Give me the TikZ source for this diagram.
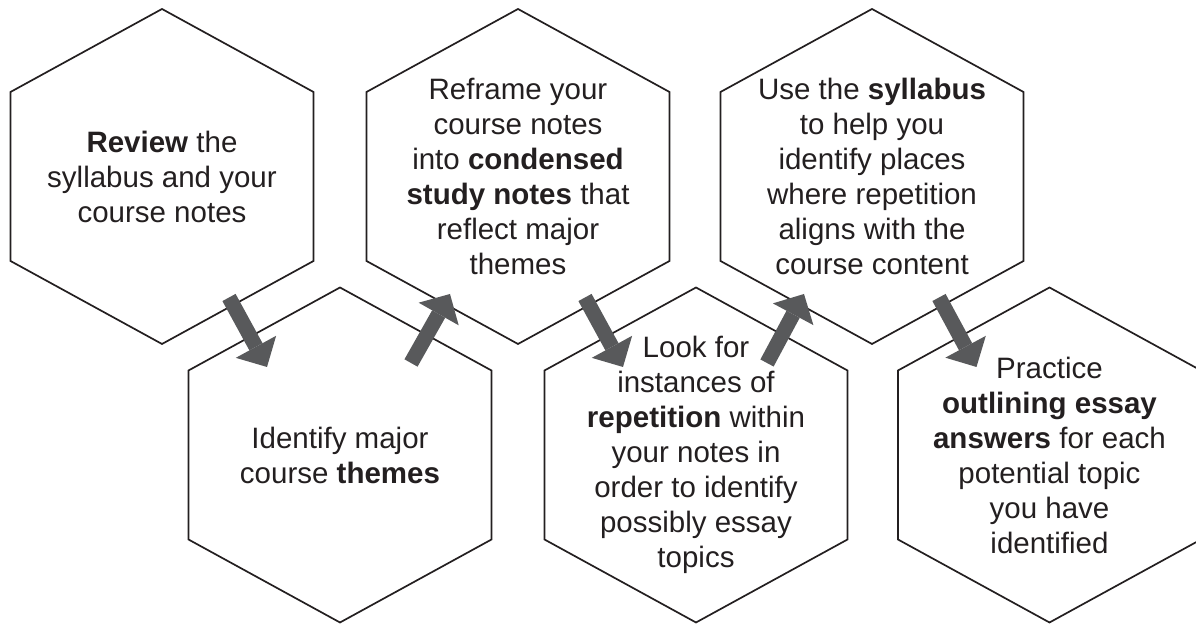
\documentclass[tikz,border=0pt]{standalone}
\usepackage{fontspec}
\setmainfont{Liberation Sans}
\usetikzlibrary{arrows.meta}
\definecolor{outline}{RGB}{35,31,32}
\definecolor{arrowgrey}{RGB}{88,89,91}
\tikzstyle{steptext}=[align=center, text=outline, inner sep=0pt,
  font=\fontsize{14.75pt}{17.5pt}\selectfont]
\tikzstyle{hexline}=[draw=outline, line width=0.85pt, line join=miter]
\tikzstyle{steparrow}=[arrowgrey, line width=7.5pt,
  -{Triangle[length=11.5pt,width=23pt,line width=0pt]}]
% hexagon (pointy top) round the centre of a step node
\newcommand{\hexcell}[1]{%
  \draw[hexline] ([shift={(0,167.5)}]#1.center) -- ([shift={(151.5,84.5)}]#1.center)
    -- ([shift={(151.5,-84.5)}]#1.center) -- ([shift={(0,-167.5)}]#1.center)
    -- ([shift={(-151.5,-84.5)}]#1.center) -- ([shift={(-151.5,84.5)}]#1.center) -- cycle;}

\begin{document}
\begin{tikzpicture}[x=0.5pt,y=0.5pt]
  \useasboundingbox (0,0) rectangle (1196,624);

  %% Steps, top row
  \draw (162,447.5) node[steptext] (review) {\textbf{Review} the\\syllabus and your\\course notes};
  \draw (518,447.5) node[steptext] (reframe) {Reframe your\\course notes\\into \textbf{condensed}\\\textbf{study notes} that\\reflect major\\themes};
  \draw (872,447.5) node[steptext] (syllabus) {Use the \textbf{syllabus}\\to help you\\identify places\\where repetition\\aligns with the\\course content};

  %% Steps, bottom row
  \draw (340,169) node[steptext] (themes) {Identify major\\course \textbf{themes}};
  \draw (696,169) node[steptext] (repetition) {Look for\\instances of\\\textbf{repetition} within\\your notes in\\order to identify\\possibly essay\\topics};
  \draw (1049.5,169) node[steptext] (practice) {Practice\\\textbf{outlining essay}\\\textbf{answers} for each\\potential topic\\you have\\identified};

  \hexcell{review}
  \hexcell{reframe}
  \hexcell{syllabus}
  \hexcell{themes}
  \hexcell{repetition}
  \hexcell{practice}

  %% Arrows
  \draw[steparrow] ([shift={(67,-121)}]review.center) -- ([shift={(-73,88)}]themes.center);
  \draw[steparrow] ([shift={(71,92)}]themes.center) -- ([shift={(-68,-117.5)}]reframe.center);
  \draw[steparrow] ([shift={(67,-121)}]reframe.center) -- ([shift={(-73,88)}]repetition.center);
  \draw[steparrow] ([shift={(71,92)}]repetition.center) -- ([shift={(-68,-117.5)}]syllabus.center);
  \draw[steparrow] ([shift={(67,-121)}]syllabus.center) -- ([shift={(-73,88)}]practice.center);
\end{tikzpicture}
\end{document}
